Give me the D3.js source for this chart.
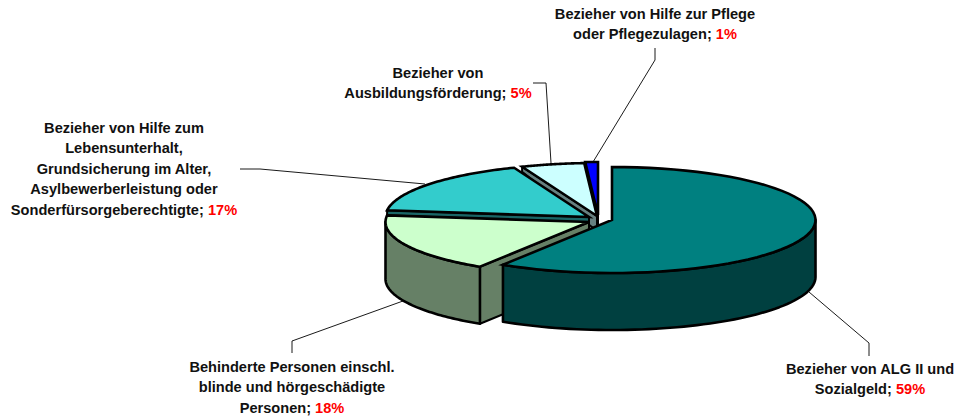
<!DOCTYPE html>
<html><head><meta charset="utf-8">
<script src="https://cdn.jsdelivr.net/npm/d3@7"></script>
<style>html,body{margin:0;padding:0;background:#fff}svg{display:block}
text{font-family:"Liberation Sans",Arial,sans-serif;font-weight:700;font-size:14.6px;fill:#111}
tspan.v{fill:#ff0000}</style></head><body><svg id="c" width="956" height="419"></svg>
<script>
const categories=["Bezieher von ALG II und Sozialgeld","Behinderte Personen einschl. blinde und hörgeschädigte Personen","Bezieher von Hilfe zum Lebensunterhalt, Grundsicherung im Alter, Asylbewerberleistung oder Sonderfürsorgeberechtigte","Bezieher von Ausbildungsförderung","Bezieher von Hilfe zur Pflege oder Pflegezulagen"];
const values=[59,18,17,5,1];
const topColors=["#008080","#CCFFCC","#33CCCC","#CCFFFF","#0000FF"];
const wallColors=["#004040","#668066","#1A6666","#668080","#000080"];
const labelLines=[["Bezieher von ALG II und","Sozialgeld;"],["Behinderte Personen einschl.","blinde und hörgeschädigte","Personen;"],["Bezieher von Hilfe zum","Lebensunterhalt,","Grundsicherung im Alter,","Asylbewerberleistung oder","Sonderfürsorgeberechtigte;"],["Bezieher von","Ausbildungsförderung;"],["Bezieher von Hilfe zur Pflege","oder Pflegezulagen;"]];
// layout
const apex=[[612,220],[589,222],[589,217],[597,216],[598,215]];
const cutOuter=[0,57,5,5,4];
const cutInner=[0,57,6,15,15];
const labelPos=[[870,374],[292,372],[124,133],[438,78],[655,19]];
const leaders=[[[809,292],[869,343],[869,356]],[[403,301],[292,341],[292,353]],[[425,184],[260,169],[240,169]],[[551,163],[546,83],[533,83]],[[593,162],[655,60],[655,48]]];
const rx=203.5,ry=53,depth=57,lh=20.4;
const svg=d3.select("#c");
const arcs=d3.pie().sort(null).startAngle(0).endAngle(2*Math.PI)(values);
const ex=d3.scaleLinear().domain([-1,1]).range([-rx,rx]);
const ey=d3.scaleLinear().domain([-1,1]).range([-ry,ry]);
const pt=(i,a)=>[apex[i][0]+ex(Math.sin(a)),apex[i][1]+ey(-Math.cos(a))];
function rim(i,a0,a1,dy,rev){
  const n=60,p=[];
  for(let k=0;k<=n;k++){const a=a0+(a1-a0)*k/n;const q=pt(i,a);p.push([q[0],q[1]+dy]);}
  return rev?p.reverse():p;
}
const line=d3.line();
const order=[4,3,2,1,0];
const PI=Math.PI;
order.forEach(i=>{
  const d=arcs[i],g=svg.append("g");
  const a0=Math.max(d.startAngle,PI/2),a1=Math.min(d.endAngle,3*PI/2);
  if(d.startAngle>PI/2){
    const q=pt(i,d.startAngle),A=apex[i];
    g.append("path").attr("d",line([A,q,[q[0],q[1]+cutOuter[i]],[A[0],A[1]+cutInner[i]]])+"Z")
      .attr("fill",wallColors[i]).attr("stroke","#000").attr("stroke-width",2).attr("stroke-linejoin","round");
  }
  if(a1>a0){
    g.append("path").attr("d",line(rim(i,a0,a1,0).concat(rim(i,a0,a1,depth,true)))+"Z")
      .attr("fill",wallColors[i]).attr("stroke","#000").attr("stroke-width",2.6).attr("stroke-linejoin","round");
  }
  g.append("path").attr("d",line([apex[i]].concat(rim(i,d.startAngle,d.endAngle,0)))+"Z")
    .attr("fill",topColors[i]).attr("stroke","#000").attr("stroke-width",2.6).attr("stroke-linejoin","miter");
});
const thin=d3.line();
leaders.forEach(l=>svg.append("path").attr("d",thin(l)).attr("fill","none").attr("stroke","#000").attr("stroke-width",0.9));
labelLines.forEach((ls,i)=>{
  const t=svg.append("text").attr("text-anchor","middle");
  ls.forEach((s,k)=>{
    const last=k===ls.length-1;
    t.append("tspan").attr("x",labelPos[i][0]).attr("y",labelPos[i][1]+k*lh).text(last?s+" ":s);
    if(last)t.append("tspan").attr("class","v").text(values[i]+"%");
  });
});
</script></body></html>
